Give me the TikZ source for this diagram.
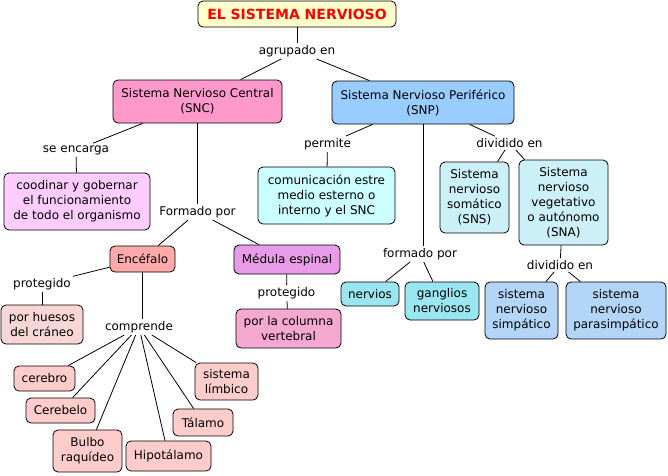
\documentclass[tikz,border=0pt]{standalone}
\usepackage{fontspec}
\setmainfont{DejaVu Sans}
\usepackage{xcolor}
\usepackage{tikz}
\usetikzlibrary{shapes,arrows,positioning,calc}

\definecolor{titlecol}{HTML}{FFFFCC}
\definecolor{snccol}{HTML}{FF99CC}
\definecolor{snpcol}{HTML}{99CCFF}
\definecolor{taskcol}{HTML}{FFCCFF}
\definecolor{comcol}{HTML}{CCFFFF}
\definecolor{divcol}{HTML}{CCF0F7}
\definecolor{enccol}{HTML}{FFAAAA}
\definecolor{medcol}{HTML}{E89CE8}
\definecolor{bonecol}{HTML}{F8D6D6}
\definecolor{spinecol}{HTML}{F5A8D0}
\definecolor{partcol}{HTML}{FFCCCC}
\definecolor{nervecol}{HTML}{99E6F0}
\definecolor{autocol}{HTML}{B3D5F7}

\tikzset{
    concept/.style={draw, line width=0.8pt, rounded corners=5pt, align=center, fill=#1, inner sep=2pt, font=\fontsize{12}{15}\selectfont},
    linkword/.style={inner sep=2pt, font=\fontsize{12}{15}\selectfont},
    link/.style={line width=0.8pt}
}

\begin{document}
\begin{tikzpicture}[x=1pt, y=-1pt]
    \useasboundingbox [fill=white] (0, 0) rectangle (668, 475);
    % Title
    \node [concept=titlecol, minimum width=198pt, minimum height=26pt, text=red, font=\fontsize{14}{16}\selectfont\bfseries] (title) at (297, 14) {EL SISTEMA NERVIOSO};
    \node [linkword] (agr) at (297, 51) {agrupado en};
    % Central
    \node [concept=snccol, minimum width=169pt, minimum height=43pt] (snc) at (197.5, 101.5) {Sistema Nervioso Central\\(SNC)};
    \node [linkword] (enca) at (76, 150) {se encarga};
    \node [concept=taskcol, minimum width=146pt, minimum height=57pt] (task) at (77, 201.5) {coodinar y gobernar\\el funcionamiento\\de todo el organismo};
    \node [linkword] (form) at (197.5, 212) {Formado por};
    \node [concept=enccol, minimum width=65pt, minimum height=26pt] (enc) at (142.5, 259) {Encéfalo};
    \node [concept=medcol, minimum width=106pt, minimum height=29pt] (med) at (287, 259.5) {Médula espinal};
    \node [linkword] (prot1) at (42, 284) {protegido};
    \node [concept=bonecol, minimum width=82pt, minimum height=39pt] (bone) at (42, 324.5) {por huesos\\del cráneo};
    \node [linkword] (prot2) at (286.5, 293) {protegido};
    \node [concept=spinecol, minimum width=105pt, minimum height=39pt] (spine) at (288.5, 328.5) {por la columna\\vertebral};
    % Brain parts
    \node [linkword] (comp) at (139, 327) {comprende};
    \node [concept=partcol, minimum width=61pt, minimum height=25pt] (cerebro) at (44.5, 378.5) {cerebro};
    \node [concept=partcol, minimum width=69pt, minimum height=25pt] (cerebelo) at (60.5, 410.5) {Cerebelo};
    \node [concept=partcol, minimum width=69pt, minimum height=42pt] (bulbo) at (87.5, 451) {Bulbo\\raquídeo};
    \node [concept=partcol, minimum width=85pt, minimum height=30pt] (hipo) at (168.5, 456) {Hipotálamo};
    \node [concept=partcol, minimum width=60pt, minimum height=27pt] (talamo) at (203, 422.5) {Tálamo};
    \node [concept=partcol, minimum width=63pt, minimum height=37pt] (limbico) at (226.5, 381.5) {sistema\\límbico};
    % Peripheral
    \node [concept=snpcol, minimum width=182pt, minimum height=43pt] (snp) at (423, 102.5) {Sistema Nervioso Periférico\\(SNP)};
    \node [linkword] (perm) at (327.5, 144) {permite};
    \node [concept=comcol, minimum width=137pt, minimum height=57pt] (com) at (326.5, 195.5) {comunicación estre\\medio esterno o\\interno y el SNC};
    \node [linkword] (div1) at (509.5, 143) {dividido en};
    \node [concept=divcol, minimum width=69pt, minimum height=71pt] (sns) at (474.5, 197.5) {Sistema\\nervioso\\somático\\(SNS)};
    \node [concept=divcol, minimum width=89pt, minimum height=85pt] (sna) at (563.5, 202.5) {Sistema\\nervioso\\vegetativo\\o autónomo\\(SNA)};
    \node [linkword] (form2) at (420, 254) {formado por};
    \node [concept=nervecol, minimum width=58pt, minimum height=24pt] (nervios) at (370, 294) {nervios};
    \node [concept=nervecol, minimum width=74pt, minimum height=38pt] (ganglios) at (442, 301) {ganglios\\nerviosos};
    \node [linkword] (div2) at (560, 265) {dividido en};
    \node [concept=autocol, minimum width=73pt, minimum height=57pt] (simp) at (521.5, 310.5) {sistema\\nervioso\\simpático};
    \node [concept=autocol, minimum width=100pt, minimum height=57pt] (para) at (616, 310.5) {sistema\\nervioso\\parasimpático};
    % Links
    \draw [link] (title) -- (agr);
    \draw [link] (agr) -- (snc);
    \draw [link] (agr) -- (snp);
    \draw [link] (snc) -- (enca);
    \draw [link] (enca) -- (task);
    \draw [link] (snc) -- (form);
    \draw [link] (form) -- (enc);
    \draw [link] (form) -- (med);
    \draw [link] (enc) -- (prot1);
    \draw [link] (prot1) -- (bone);
    \draw [link] (med) -- (prot2);
    \draw [link] (prot2) -- (spine);
    \draw [link] (enc) -- (enc |- comp.north);
    \draw [link] (comp) -- (cerebro);
    \draw [link] (comp) -- (cerebelo);
    \draw [link] (comp) -- (bulbo);
    \draw [link] (comp) -- (hipo);
    \draw [link] (comp) -- (talamo);
    \draw [link] (comp) -- (limbico);
    \draw [link] (snp) -- (perm);
    \draw [link] (perm) -- (com);
    \draw [link] (snp) -- (div1);
    \draw [link] (div1) -- (sns);
    \draw [link] (div1) -- (sna);
    \draw [link] (snp) -- (snp |- form2.north);
    \draw [link] (form2) -- (nervios);
    \draw [link] (form2) -- (ganglios);
    \draw [link] (sna) -- (div2);
    \draw [link] (div2) -- (simp);
    \draw [link] (div2) -- (para);
\end{tikzpicture}
\end{document}
